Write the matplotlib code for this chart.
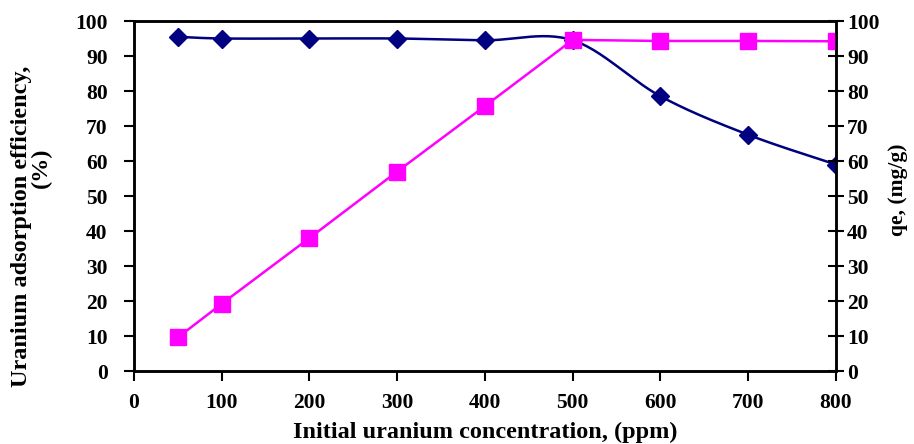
import matplotlib.pyplot as plt
import numpy as np

# data
conc = [50, 100, 200, 300, 400, 500, 600, 700, 800]
efficiency = [95.5, 95.0, 95.0, 95.0, 94.5, 94.5, 78.5, 67.5, 59.0]
qe = [9.6, 19.2, 38.0, 57.0, 75.7, 94.6, 94.3, 94.3, 94.2]

plt.rcParams['font.family'] = 'Liberation Serif'
plt.rcParams['font.weight'] = 'bold'


def smooth_line(x, y, n=30):
    # Excel-like smoothed line (cardinal spline through the points)
    x = np.asarray(x, float)
    y = np.asarray(y, float)
    xs, ys = [], []
    for i in range(len(x) - 1):
        x0, x1 = x[i], x[i + 1]
        y0, y1 = y[i], y[i + 1]
        xp = x[i - 1] if i > 0 else x0
        yp = y[i - 1] if i > 0 else y0
        xn = x[i + 2] if i + 2 < len(x) else x1
        yn = y[i + 2] if i + 2 < len(x) else y1
        mx0, my0 = (x1 - xp) / 2, (y1 - yp) / 2
        mx1, my1 = (xn - x0) / 2, (yn - y0) / 2
        t = np.linspace(0, 1, n)
        h00 = 2 * t**3 - 3 * t**2 + 1
        h10 = t**3 - 2 * t**2 + t
        h01 = -2 * t**3 + 3 * t**2
        h11 = t**3 - t**2
        xs.append(h00 * x0 + h10 * mx0 + h01 * x1 + h11 * mx1)
        ys.append(h00 * y0 + h10 * my0 + h01 * y1 + h11 * my1)
    return np.concatenate(xs), np.concatenate(ys)


fig = plt.figure(figsize=(9.14, 4.44), dpi=100)
ax = fig.add_axes([0.1466, 0.1644, 0.768, 0.7883])
ax2 = ax.twinx()

sx, sy = smooth_line(conc, efficiency)
ax.plot(sx, sy, color='#000080', linewidth=1.8)
ax.plot(conc, efficiency, linestyle='none', marker='D', markersize=9,
        color='#000080')

ax2.plot(conc, qe, color='#FF00FF', linewidth=1.8, marker='s',
         markersize=11)

for a in (ax, ax2):
    a.set_xlim(0, 800)
    a.set_ylim(0, 100)
    a.set_yticks(range(0, 101, 10))
    for s in a.spines.values():
        s.set_linewidth(1.8)

ax.set_xticks(range(0, 801, 100))
ax.tick_params(axis='both', direction='out', length=7, width=1.5,
               labelsize=15.5)
ax.tick_params(axis='y', pad=12)
ax.tick_params(axis='x', pad=9)
ax2.tick_params(axis='y', direction='inout', length=12, width=1.5,
                labelsize=15.5, pad=2)

ax.set_xlabel('Initial uranium concentration, (ppm)', fontsize=17.5,
              fontweight='bold', labelpad=6)

# two-line y label, placed as Excel had it
fig.text(22 / 914, 1 - 226 / 444, 'Uranium adsorption efficiency,',
         rotation=90, ha='center', va='center', fontsize=17.5,
         fontweight='bold')
fig.text(41 / 914, 1 - 168 / 444, '(%)', rotation=90, ha='center',
         va='center', fontsize=17.5, fontweight='bold')

fig.text(898 / 914, 1 - 190 / 444, 'qe, (mg/g)', rotation=90,
         ha='center', va='center', fontsize=15.5, fontweight='bold')

plt.savefig('out.png', dpi=100)
